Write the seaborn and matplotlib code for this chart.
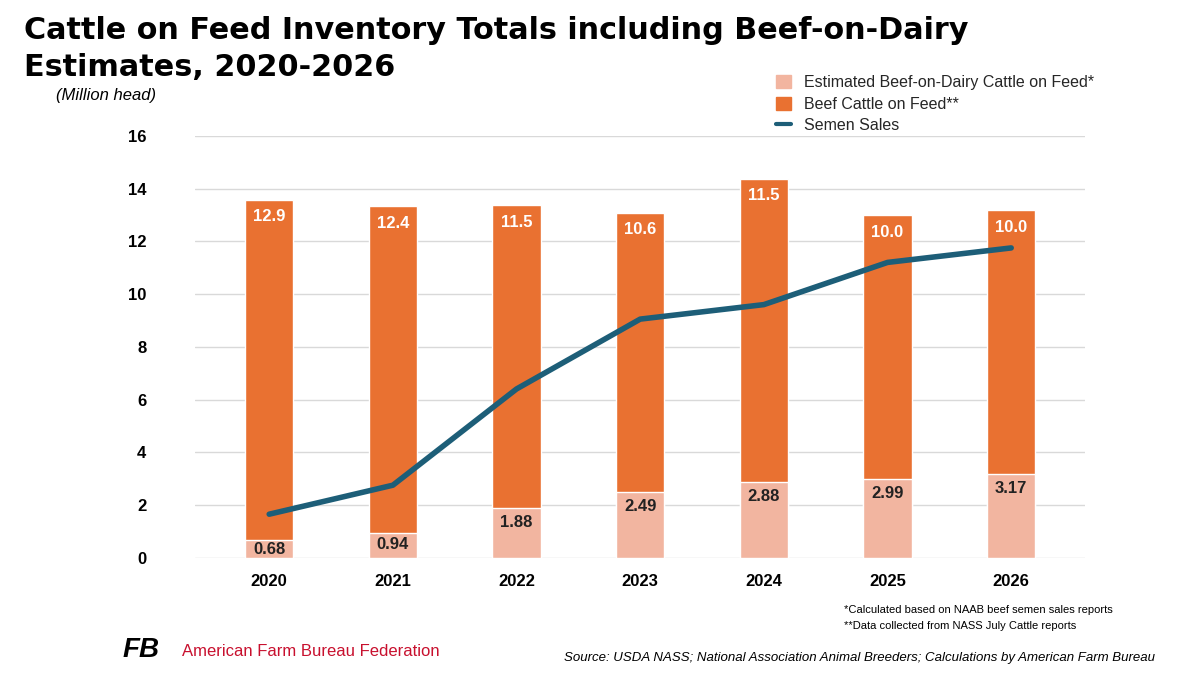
import matplotlib
matplotlib.use("Agg")
import matplotlib.pyplot as plt
import seaborn as sns
import pandas as pd
from matplotlib.patches import Patch
from matplotlib.lines import Line2D

years = ["2020", "2021", "2022", "2023", "2024", "2025", "2026"]
dairy = [0.68, 0.94, 1.88, 2.49, 2.88, 2.99, 3.17]
beef = [12.9, 12.4, 11.5, 10.6, 11.5, 10.0, 10.0]
semen = [1.65, 2.75, 6.4, 9.05, 9.6, 11.2, 11.75]

sns.set_theme(style="white")
plt.rcParams['font.family'] = ['Liberation Sans', 'DejaVu Sans']

ORANGE = "#E97131"
PINK = "#F2B5A0"
TEAL = "#1D5E78"

df = pd.DataFrame({"year": years, "dairy": dairy, "beef": beef, "semen": semen})
df["total"] = df["dairy"] + df["beef"]

fig = plt.figure(figsize=(12, 6.76), dpi=100)
ax = fig.add_axes([0.1625, 0.175, 0.742, 0.624])

sns.barplot(data=df, x="year", y="total", color=ORANGE, width=0.39, saturation=1, ax=ax)
sns.barplot(data=df, x="year", y="dairy", color=PINK, width=0.39, saturation=1, ax=ax)
sns.lineplot(x=list(range(len(years))), y=semen, color=TEAL, lw=4, ax=ax)

for i in range(len(years)):
    ax.text(i, df["total"][i] - 0.65, f"{beef[i]:.1f}", ha="center", va="center",
            color="white", fontsize=12, fontweight="bold")
    ypos = 0.3 if dairy[i] < 1.5 else dairy[i] - 0.55
    if 0.9 < dairy[i] < 1.5:
        ypos = 0.5
    ax.text(i, ypos, f"{dairy[i]:.2f}", ha="center", va="center",
            color="#222222", fontsize=12, fontweight="bold")

ax.set_ylim(0, 16)
ax.set_yticks(range(0, 17, 2))
ax.set_xlim(-0.6, 6.6)
ax.set_xlabel("")
ax.set_ylabel("")
ax.grid(axis="y", color="#D9D9D9", lw=1)
ax.set_axisbelow(True)
for s in ax.spines.values():
    s.set_visible(False)
ax.tick_params(axis="both", labelsize=12, length=0)
for t in ax.get_xticklabels() + ax.get_yticklabels():
    t.set_fontweight("bold")
    t.set_color("black")
ax.tick_params(axis="y", pad=35)
ax.tick_params(axis="x", pad=12)

fig.text(0.02, 0.955, "Cattle on Feed Inventory Totals including Beef-on-Dairy",
         fontsize=21.8, fontweight="bold", va="center", color="black", family=["DejaVu Sans"])
fig.text(0.02, 0.9, "Estimates, 2020-2026", fontsize=21.8, fontweight="bold", va="center",
         color="black", family=["DejaVu Sans"])
fig.text(0.047, 0.858, "(Million head)", fontsize=12, style="italic", va="center", color="black")

handles = [Patch(color=PINK), Patch(color=ORANGE), Line2D([], [], color=TEAL, lw=3)]
labels = ["Estimated Beef-on-Dairy Cattle on Feed*", "Beef Cattle on Feed**", "Semen Sales"]
fig.legend(handles, labels, loc="upper left", bbox_to_anchor=(0.635, 0.91), frameon=False,
           fontsize=11.5, handlelength=0.9, handleheight=0.9, labelspacing=0.4)

fig.text(0.703, 0.093, "*Calculated based on NAAB beef semen sales reports", fontsize=8, color="black")
fig.text(0.703, 0.069, "**Data collected from NASS July Cattle reports", fontsize=8, color="black")
fig.text(0.47, 0.022, "Source: USDA NASS; National Association Animal Breeders; Calculations by American Farm Bureau",
         fontsize=9.5, style="italic", color="black")
fig.text(0.102, 0.028, "FB", fontsize=20, fontweight="bold", style="italic", color="black")
fig.text(0.152, 0.03, "American Farm Bureau Federation", fontsize=12, color="#C8102E")

fig.savefig("out.png", dpi=100)
